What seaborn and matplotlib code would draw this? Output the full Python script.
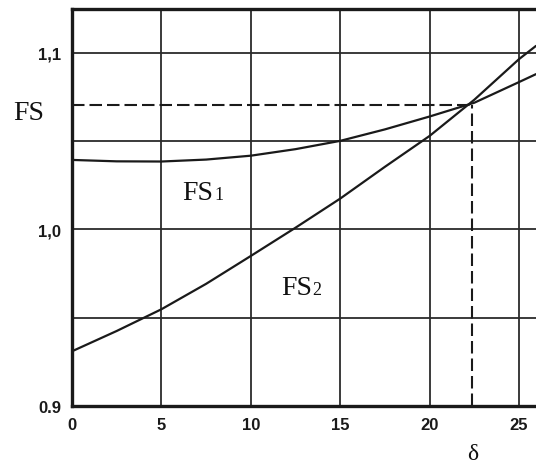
import matplotlib
matplotlib.use("Agg")
import matplotlib.pyplot as plt
import seaborn as sns
import pandas as pd

# ---- data ----
delta = [0, 2.5, 5, 7.5, 10, 12.5, 15, 17.5, 20, 22.5, 25, 25.95]
fs1 = [1.0394, 1.0386, 1.0385, 1.0396, 1.0418, 1.0455, 1.0502, 1.0567,
       1.0640, 1.0718, 1.0835, 1.0880]
fs2 = [0.9310, 0.9425, 0.9548, 0.9692, 0.9850, 1.0010, 1.0175, 1.0355,
       1.0530, 1.0735, 1.0965, 1.1040]
fs_star = 1.0705
delta_star = 22.35
x_ticks = [0, 5, 10, 15, 20, 25]
x_tick_labels = ["0", "5", "10", "15", "20", "25"]
y_ticks = [0.9, 1.0, 1.1]
y_tick_labels = ["0.9", "1,0", "1,1"]
y_grid = [0.95, 1.0, 1.05, 1.1]

sns.set_theme(style="white")
plt.rcParams["font.family"] = ["Liberation Sans", "DejaVu Sans"]

W, H = 536, 464
fig = plt.figure(figsize=(W / 100, H / 100), dpi=100)
ax = fig.add_axes([72 / W, (H - 407) / H, (W - 72) / W, (407 - 10) / H])

df = pd.DataFrame({"delta": delta, "FS1": fs1, "FS2": fs2})
ink = "#1a1a1a"
grid_c = "#2b2b2b"

# grid
for xv in x_ticks[1:]:
    ax.axvline(xv, color=grid_c, lw=1.3, zorder=1)
for yv in y_grid:
    ax.axhline(yv, color=grid_c, lw=1.3, zorder=1)

sns.lineplot(data=df, x="delta", y="FS1", ax=ax, color=ink, lw=1.6, zorder=3)
sns.lineplot(data=df, x="delta", y="FS2", ax=ax, color=ink, lw=1.6, zorder=3)

# dashed guide lines
ax.plot([0, delta_star], [fs_star, fs_star], color=ink, lw=1.5,
        dashes=(6, 2.4), zorder=2)
ax.plot([delta_star, delta_star], [0.9, fs_star], color=ink, lw=1.5,
        dashes=(6, 2.4), zorder=2)

ax.set_xlim(0, 25.95)
ax.set_ylim(0.9, 1.1249)
ax.set_xticks(x_ticks)
ax.set_xticklabels(x_tick_labels, fontsize=12, fontweight="bold", color=ink)
ax.set_yticks(y_ticks)
ax.set_yticklabels(y_tick_labels, fontsize=12, fontweight="bold", color=ink)
ax.tick_params(axis="both", length=0, pad=8)
ax.set_xlabel("")
ax.set_ylabel("")

for s in ["left", "bottom", "top"]:
    ax.spines[s].set_color(ink)
    ax.spines[s].set_linewidth(2.4)
ax.spines["right"].set_visible(False)

serif = ["Liberation Serif", "DejaVu Serif"]

def ftext(px, py, s, size, **kw):
    fig.text(px / W, (H - py) / H, s, fontsize=size, family=serif,
             color="#111111", **kw)

ftext(13, 120.5, "FS", 20, ha="left", va="baseline")
ftext(182, 200, "FS", 20, ha="left", va="baseline")
ftext(214, 200, "1", 13, ha="left", va="baseline")
ftext(281, 295.5, "FS", 20, ha="left", va="baseline")
ftext(312, 295.5, "2", 13, ha="left", va="baseline")
ftext(473, 460, "δ", 17, ha="center", va="baseline")

fig.savefig("out.png", dpi=100)
